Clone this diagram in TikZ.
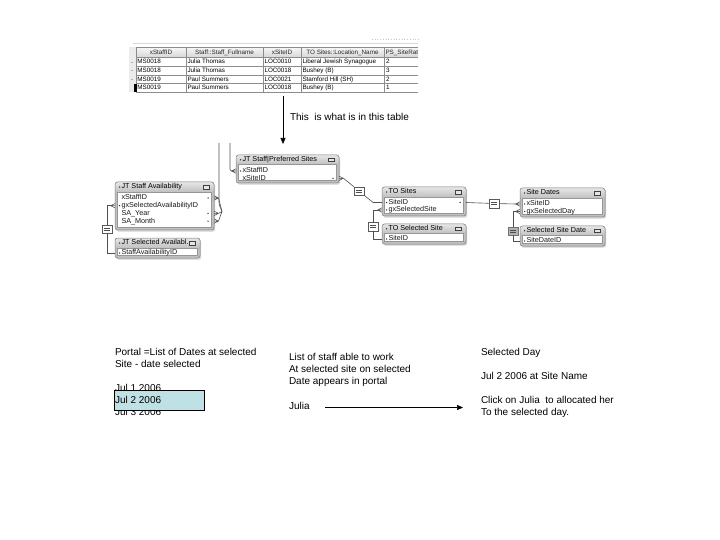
\documentclass[tikz,border=0pt]{standalone}
\usepackage{fontspec}
\setmainfont{Liberation Sans}
\usetikzlibrary{calc,arrows.meta}
\definecolor{hdtop}{RGB}{230,230,230}
\definecolor{framec}{RGB}{192,192,192}
\definecolor{framel}{RGB}{130,130,130}
\definecolor{bodyl}{RGB}{150,150,150}
\definecolor{linkc}{RGB}{80,80,80}
\definecolor{gridc}{RGB}{140,140,140}
\definecolor{thtop}{RGB}{246,246,246}
\definecolor{thbot}{RGB}{214,214,214}
\definecolor{selcyan}{RGB}{190,225,229}
\definecolor{eqgrey}{RGB}{178,178,178}

\newcommand\ERbox[7]{%
  \fill[black!18,rounded corners=2.5] (#2+1.2,#3+1.6) rectangle (#2+#4+1.2,#3+#5+1.6);
  \node[erframe,minimum width=#4,minimum height=#5,anchor=north west] (#1) at (#2,#3) {};
  \shade[top color=hdtop,bottom color=framec,rounded corners=2.5] (#1.north west) rectangle ($(#1.north east)+(0,#6)$);
  \draw[framel,line width=0.5,rounded corners=2.5] (#1.north west) rectangle (#1.south east);
  \draw[bodyl,fill=white,line width=0.4] ($(#1.north west)+(2.5,#6)$) rectangle ($(#1.south east)+(-2.5,-2.5)$);
  \fill[black!80] ($(#1.north west)+(4.6,#6/2)$) circle (0.8);
  \node[ertitle] (#1-t) at ($(#1.north west)+(6.5,#6/2)$) {#7};
  \draw[black!75,fill=black!10,line width=0.45] ($(#1.north east)+(-10.5,#6/2-1.8)$) rectangle ++(5.5,3.6);
  \fill[black!75] ($(#1.north east)+(-10.5,#6/2-1.8)$) rectangle ++(5.5,1.2);
}
\newcommand\ldot[1]{\fill[black!80] ($(#1.west)+(-2,0)$) circle (0.75);}
\newcommand\rdot[2]{\fill[black!80] ($(#1.east |- #2)+(-6,0)$) circle (0.75);}
\newcommand\crowL[1]{\draw[linkc,line width=0.55] ($(#1)+(-4.5,0)$) -- ($(#1)+(0,-2.2)$) ($(#1)+(-4.5,0)$) -- (#1) ($(#1)+(-4.5,0)$) -- ($(#1)+(0,2.2)$);}
\newcommand\crowR[1]{\draw[linkc,line width=0.55] ($(#1)+(4.5,0)$) -- ($(#1)+(0,-2.2)$) ($(#1)+(4.5,0)$) -- (#1) ($(#1)+(4.5,0)$) -- ($(#1)+(0,2.2)$);}
\newcommand\eqmarks[1]{\draw[black!70,line width=0.45] ($(#1.center)+(-3,-1.2)$) -- ++(6,0) ($(#1.center)+(-3,1.2)$) -- ++(6,0);}

\begin{document}
\begin{tikzpicture}[x=1pt,y=-1pt,
  bigtxt/.style={font=\fontsize{10}{12}\selectfont,inner sep=0,outer sep=0,anchor=base west},
  tabtxt/.style={font=\fontsize{6.3}{7}\selectfont,inner sep=0,outer sep=0,anchor=west,text height=4.6pt,text depth=1.3pt},
  tabhead/.style={tabtxt,anchor=center,text=black!85},
  erframe/.style={fill=framec,rounded corners=2.5,inner sep=0,outer sep=0},
  ertitle/.style={font=\fontsize{7.2}{8}\selectfont,inner sep=0,outer sep=0,anchor=west,text=black,text height=5.2pt,text depth=1.4pt},
  erfield/.style={font=\fontsize{7.2}{8}\selectfont,inner sep=0,outer sep=0,anchor=west,text=black!90,text height=5.2pt,text depth=1.4pt},
  link/.style={linkc,line width=0.6},
  eqbox/.style={draw=black!65,fill=white,line width=0.45,minimum width=10.5,minimum height=8.5,inner sep=0,outer sep=0},
  arr/.style={black,line width=0.6,-{Triangle[length=6pt,width=5pt]}}]
\useasboundingbox (0,0) rectangle (720,540);
\fill[white] (0,0) rectangle (720,540);

% ---------- table screenshot ----------
\draw[black!15,line width=0.6] (133,43.5) -- (418,43.5);
\draw[black!22,dotted,line width=0.7] (372,39.5) -- (418,39.5);
\fill[black!8] (129,47.5) rectangle (136,92.5);
\foreach \yy in {62,70.6,79.4}{\draw[black!30,line width=0.5] (131,\yy) -- (133,\yy);}
\shade[top color=thtop,bottom color=thbot] (136,47.5) rectangle (418,57.5);
\foreach \yy in {47.5,57.5,66.25,75,83.75,92.5}{\draw[gridc,line width=0.5] (136,\yy) -- (418,\yy);}
\foreach \xx in {136,186,263,301,384}{\draw[gridc,line width=0.5] (\xx,47.5) -- (\xx,92.5);}
\fill[black] (134.2,84) rectangle (136.6,92.5);
\node[tabhead] (h1) at (161,52.6) {xStaffID};
\node[tabhead] (h2) at (224.5,52.6) {Staff::Staff\_Fullname};
\node[tabhead] (h3) at (282,52.6) {xSiteID};
\node[tabhead] (h4) at (342.5,52.6) {TO Sites::Location\_Name};
\node[tabtxt,text=black!85] (h5) at (385.5,52.6) {PS\_SiteRat};
\foreach \r/\y/\a/\b/\c/\d/\e in {1/62/MS0018/Julia Thomas/LOC0010/Liberal Jewish Synagogue/2,
  2/70.7/MS0018/Julia Thomas/LOC0018/Bushey (B)/3,
  3/79.4/MS0019/Paul Summers/LOC0021/Stamford Hill (SH)/2,
  4/88.1/MS0019/Paul Summers/LOC0018/Bushey (B)/1}{
  \node[tabtxt] (r\r a) at (137.3,\y) {\a};
  \node[tabtxt] (r\r b) at (187.5,\y) {\b};
  \node[tabtxt] (r\r c) at (264.5,\y) {\c};
  \node[tabtxt] (r\r d) at (302.5,\y) {\d};
  \node[tabtxt] (r\r e) at (386,\y) {\e};
}
\coordinate (tabbot) at (283,96);
\coordinate (tabarrow) at (283,144);
\draw[arr] (tabbot) -- (tabarrow);
\node[bigtxt] (note) at (290,120.6) {This\ \ is what is in this table};

% ---------- relationship graph ----------
\ERbox{pf}{236}{155}{103}{28}{9.5}{JT Staff|Preferred Sites}
\node[erfield] (pf-f1) at (242.5,171) {xStaffID}; \ldot{pf-f1}
\node[erfield] (pf-f2) at (242.5,178.3) {xSiteID}; \rdot{pf}{pf-f2}

\ERbox{av}{115}{182}{99}{48}{10}{JT Staff Availability}
\node[erfield] (av-f1) at (121.5,198) {xStaffID}; \rdot{av}{av-f1}
\node[erfield] (av-f2) at (121.5,205.7) {gxSelectedAvailabilityID}; \ldot{av-f2}
\node[erfield] (av-f3) at (121.5,213.4) {SA\_Year}; \rdot{av}{av-f3}
\node[erfield] (av-f4) at (121.5,221.1) {SA\_Month}; \rdot{av}{av-f4}

\ERbox{sa}{115}{238}{85}{20}{10}{JT Selected Availabl...}
\node[erfield] (sa-f1) at (121.5,253) {StaffAvailabilityID}; \ldot{sa-f1}

\ERbox{ts}{382}{187}{84}{29}{10}{TO Sites}
\node[erfield] (ts-f1) at (388.5,202.5) {SiteID}; \ldot{ts-f1} \rdot{ts}{ts-f1}
\node[erfield] (ts-f2) at (388.5,210) {gxSelectedSite}; \ldot{ts-f2}

\ERbox{tss}{382}{224}{84}{20}{9.5}{TO Selected Site}
\node[erfield] (tss-f1) at (388.5,239) {SiteID}; \ldot{tss-f1}

\ERbox{sd}{520}{188}{85}{29}{10}{Site Dates}
\node[erfield] (sd-f1) at (526.5,204) {xSiteID}; \ldot{sd-f1}
\node[erfield] (sd-f2) at (526.5,211.5) {gxSelectedDay}; \ldot{sd-f2}

\ERbox{ssd}{520}{226}{85}{20}{9.5}{Selected Site Date}
\node[erfield] (ssd-f1) at (526.5,241) {SiteDateID}; \ldot{ssd-f1}

% row end points
\coordinate (pf-l1) at (pf.west |- pf-f1);
\coordinate (pf-r2) at (pf.east |- pf-f2);
\coordinate (av-r1) at (av.east |- av-f1);
\coordinate (av-l2) at (av.west |- av-f2);
\coordinate (av-r3) at (av.east |- av-f3);
\coordinate (av-r4) at (av.east |- av-f4);
\coordinate (sa-l1) at (sa.west |- sa-f1);
\coordinate (ts-r1) at (ts.east |- ts-f1);
\coordinate (ts-l1) at (ts.west |- ts-f1);
\coordinate (ts-l2) at (ts.west |- ts-f2);
\coordinate (tss-l1) at (tss.west |- tss-f1);
\coordinate (sd-l1) at (sd.west |- sd-f1);
\coordinate (sd-l2) at (sd.west |- sd-f2);
\coordinate (ssd-l1) at (ssd.west |- ssd-f1);

% equal-join boxes
\node[eqbox] (e1) at (107,229) {};
\node[eqbox] (e2) at (359,191) {};
\node[eqbox] (e3) at (373,226.5) {};
\node[eqbox] (e4) at (494,203.5) {};
\node[eqbox,fill=eqgrey,draw=black!55] (e5) at (513,231) {};
\eqmarks{e1}\eqmarks{e2}\eqmarks{e3}\eqmarks{e4}\eqmarks{e5}

% connectors cut off at the top
\coordinate (topA) at (230,143);
\coordinate (topB) at (219,143);
\coordinate (fan) at (222,211.5);
\draw[link,rounded corners=2] (topA) -- (topA |- pf-l1) -- ($(pf-l1)+(-4.5,0)$);
\crowL{pf-l1}
\draw[link] (topB) -- (219,202) .. controls (219,206) and (221,208) .. (fan);
\draw[link] (fan) -- ($(av-r1)+(4.5,0)$) (fan) -- ($(av-r3)+(4.5,0)$) (fan) -- ($(av-r4)+(4.5,0)$);
\crowR{av-r1}\crowR{av-r3}\crowR{av-r4}

% joins
\draw[link] ($(av-l2)+(-4.5,0)$) -- (e1 |- av-l2) -- (e1.north);
\draw[link] (e1.south) -- (e1 |- sa-l1) -- (sa-l1);
\crowL{av-l2}
\draw[link] ($(pf-r2)+(4.5,0)$) -- (e2);
\crowR{pf-r2}
\coordinate (c4b) at ($(ts-l1)+(-9,0)$);
\draw[link] (e2) -- (c4b) -- (ts-l1);
\draw[link] ($(ts-l2)+(-4.5,0)$) -- (e3 |- ts-l2) -- (e3.north);
\draw[link] (e3.south) -- (e3 |- tss-l1) -- (tss-l1);
\crowL{ts-l2}
\draw[link] (ts-r1) -- (e4);
\draw[link] (e4) -- ($(sd-l1)+(-4.5,0)$);
\crowL{sd-l1}
\draw[link] ($(sd-l2)+(-4.5,0)$) -- (e5 |- sd-l2) -- (e5.north);
\draw[link] (e5.south) -- (e5 |- ssd-l1) -- (ssd-l1);
\crowL{sd-l2}

% ---------- notes ----------
\node[bigtxt] (p1) at (115,355) {Portal =List of Dates at selected};
\node[bigtxt] (p2) at (115,367) {Site - date selected};
\node[bigtxt] (d1) at (115,391.5) {Jul 1 2006};
\node[bigtxt] (d3) at (115,415.5) {Jul 3 2006};
\node[draw=black,line width=0.8,fill=selcyan,minimum width=90,minimum height=19.5,anchor=north west,inner sep=0,outer sep=0] (selbox) at (114,390.5) {};
\node[bigtxt] (d2) at (115,403) {Jul 2 2006};

\node[bigtxt] (m1) at (289,360) {List of staff able to work};
\node[bigtxt] (m2) at (289,372) {At selected site on selected};
\node[bigtxt] (m3) at (289,384) {Date appears in portal};
\node[bigtxt] (m4) at (289,409) {Julia};
\coordinate (jA) at (325,407.5);
\coordinate (jB) at (463,407.5);
\draw[arr] (jA) -- (jB);

\node[bigtxt] (s1) at (481,355) {Selected Day};
\node[bigtxt] (s2) at (481,379) {Jul 2 2006 at Site Name};
\node[bigtxt] (s3) at (481,403) {Click on Julia\ \ to allocated her};
\node[bigtxt] (s4) at (481,415) {To the selected day.};
\end{tikzpicture}
\end{document}
